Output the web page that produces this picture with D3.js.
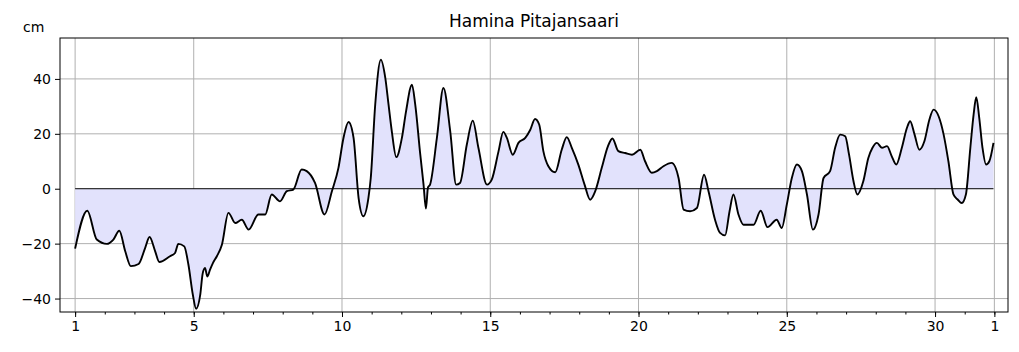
<!DOCTYPE html>
<meta charset="utf-8">
<style>
body { margin: 0; background: #fff; }
svg text { font-family: "DejaVu Sans", sans-serif; fill: #000; }
.grid line { stroke: #b0b0b0; stroke-width: 1; }
</style>
<svg width="1019" height="352"></svg>
<script src="https://d3js.org/d3.v7.min.js"></script>
<script>
// sea level, cm (day of month, value)
var days = [1.0, 1.41, 1.73, 2.07, 2.29, 2.49, 2.69, 2.88, 3.14, 3.36, 3.51, 3.70, 3.84, 4.20, 4.37, 4.48, 4.68, 4.82, 4.97, 5.08, 5.22, 5.30, 5.38, 5.46, 5.55, 5.65, 5.78,
  5.95, 6.17, 6.40, 6.62, 6.85, 7.18, 7.41, 7.63, 7.91, 8.14, 8.36, 8.64, 8.81, 9.09, 9.41, 9.66, 9.88, 10.05, 10.22, 10.39, 10.56, 10.72, 10.89, 10.97,
  11.12, 11.31, 11.46, 11.57, 11.68, 11.83, 12.02, 12.16, 12.36, 12.47, 12.64, 12.75, 12.83, 12.90, 12.97, 13.20, 13.42, 13.65, 13.85, 13.98, 14.21, 14.41, 14.60, 14.89, 15.05,
  15.28, 15.44, 15.56, 15.76, 15.95, 16.18, 16.35, 16.51, 16.65, 16.79, 16.96, 17.19, 17.41, 17.58, 17.75, 17.97, 18.18, 18.37, 18.54, 18.76, 18.97, 19.12, 19.32, 19.55, 19.78,
  20.06, 20.22, 20.45, 20.62, 20.84, 21.12, 21.35, 21.52, 21.74, 21.97, 22.21, 22.36, 22.58, 22.75, 22.92, 23.07, 23.20, 23.37, 23.54, 23.88, 24.12, 24.35, 24.66, 24.83,
  25.00, 25.17, 25.34, 25.51, 25.68, 25.88, 26.07, 26.24, 26.46, 26.63, 26.80, 26.97, 27.10, 27.25, 27.38, 27.58, 27.75, 27.89, 28.04, 28.21, 28.38, 28.54, 28.69, 28.88,
  29.05, 29.16, 29.31, 29.47, 29.64, 29.81, 29.95, 30.12, 30.29, 30.45, 30.62, 30.77, 30.90, 31.04, 31.19, 31.30, 31.39, 31.49, 31.60, 31.72, 31.83, 31.97];
var levels = [-21.8, -8.0, -18.5, -20.1, -18.5, -15.3, -22.8, -28.2, -27.4, -21.6, -17.6, -22.8, -26.7, -24.6, -23.4, -20.1, -21.0, -27.6, -38.6, -43.7, -38.6, -31.0, -28.9, -32.0, -29.5, -27.0, -24.6,
  -20.4, -8.8, -12.5, -11.3, -14.9, -9.4, -9.4, -2.1, -4.6, -0.9, -0.3, 7.0, 6.4, 2.1, -9.4, -0.9, 7.6, 18.5, 24.3, 18.5, -3.4, -10.0, -3.4, 3.9,
  30.6, 47.0, 40.4, 30.6, 20.9, 11.5, 18.5, 28.2, 37.9, 30.6, 12.4, 1.5, -7.2, 0.5, 1.5, 18.5, 36.7, 20.9, 1.5, 2.1, 16.1, 24.8, 14.9, 1.5, 3.3,
  13.7, 20.7, 18.5, 12.4, 16.7, 18.5, 21.5, 25.4, 23.4, 13.7, 8.2, 6.0, 14.2, 18.8, 14.9, 8.8, 1.5, -4.0, -0.9, 7.6, 15.5, 18.3, 13.7, 13.0, 12.4,
  14.2, 10.0, 5.8, 6.4, 8.2, 9.4, 3.9, -7.6, -8.2, -7.0, 5.1, -0.9, -11.3, -16.1, -17.0, -8.2, -2.1, -9.4, -13.1, -13.1, -8.0, -14.0, -11.3, -14.3,
  -5.8, 3.9, 8.8, 6.4, -2.1, -14.9, -9.4, 3.9, 6.4, 14.9, 19.7, 19.1, 12.4, 2.7, -2.1, 2.7, 11.2, 14.9, 16.7, 14.9, 15.5, 11.8, 8.8, 14.9,
  22.1, 24.6, 19.7, 14.2, 17.3, 25.2, 28.8, 26.4, 19.7, 10.0, -2.1, -4.0, -5.2, -2.1, 14.9, 27.0, 33.3, 25.8, 14.9, 8.8, 10.0, 16.7];

var xTicks = [1, 5, 10, 15, 20, 25, 30, 32];
var xTickLabels = ["1", "5", "10", "15", "20", "25", "30", "1"];
var yTicks = [-40, -20, 0, 20, 40];
var title = "Hamina Pitajansaari";
var unit = "cm";

var svg = d3.select("svg"),
    margin = {top: 38, right: 11, bottom: 40, left: 60},
    width = +svg.attr("width") - margin.left - margin.right,
    height = +svg.attr("height") - margin.top - margin.bottom;

var x = d3.scaleLinear().domain([0.49, 32.46]).range([0, width]);
var y = d3.scaleLinear().domain([-44.9, 54.9]).range([height, 0]);

var g = svg.append("g").attr("transform", "translate(" + margin.left + "," + margin.top + ")");

// grid
var grid = g.append("g").attr("class", "grid");
grid.selectAll(".gx").data(xTicks).enter().append("line")
    .attr("x1", function(d) { return x(d); }).attr("x2", function(d) { return x(d); })
    .attr("y1", 0).attr("y2", height);
grid.selectAll(".gy").data(yTicks.filter(function(d) { return d !== 0; })).enter().append("line")
    .attr("x1", 0).attr("x2", width)
    .attr("y1", function(d) { return y(d); }).attr("y2", function(d) { return y(d); });

var pts = days.map(function(d, i) { return [d, levels[i]]; });

g.append("path")
    .datum(pts)
    .attr("fill", "#e2e2fc")
    .attr("d", d3.area().curve(d3.curveMonotoneX).x(function(d) { return x(d[0]); }).y0(y(0)).y1(function(d) { return y(d[1]); }));

g.append("line")
    .attr("x1", x(days[0])).attr("x2", x(days[days.length - 1]))
    .attr("y1", y(0)).attr("y2", y(0))
    .attr("stroke", "#000").attr("stroke-width", 1);

g.append("path")
    .datum(pts)
    .attr("fill", "none")
    .attr("stroke", "#000")
    .attr("stroke-width", 1.9)
    .attr("stroke-linejoin", "round")
    .attr("d", d3.line().curve(d3.curveMonotoneX).x(function(d) { return x(d[0]); }).y(function(d) { return y(d[1]); }));

// axes
var minor = d3.range(1, 33);
g.append("g")
    .attr("transform", "translate(0," + height + ")")
    .call(d3.axisBottom(x).tickValues(minor).tickSize(2.5).tickFormat(""))
    .call(function(s) { s.select(".domain").remove(); });
g.append("g")
    .attr("transform", "translate(0," + height + ")")
    .call(d3.axisBottom(x).tickValues(xTicks).tickSize(5).tickPadding(4)
        .tickFormat(function(d, i) { return xTickLabels[i]; }))
    .call(function(s) {
        s.select(".domain").remove();
        s.selectAll("text").style("font-size", "14px");
    });
g.append("g")
    .call(d3.axisLeft(y).tickValues(yTicks).tickSize(5).tickPadding(4)
        .tickFormat(function(d) { return d < 0 ? "\u2212" + Math.abs(d) : d; }))
    .call(function(s) {
        s.select(".domain").remove();
        s.selectAll("text").style("font-size", "14px");
    });

g.append("rect")
    .attr("width", width).attr("height", height)
    .attr("fill", "none").attr("stroke", "#000").attr("stroke-width", 1);

svg.append("text")
    .attr("x", margin.left + width / 2).attr("y", 27)
    .attr("text-anchor", "middle")
    .style("font-size", "17px")
    .text(title);

svg.append("text")
    .attr("x", 23).attr("y", 32)
    .style("font-size", "14px")
    .text(unit);
</script>
